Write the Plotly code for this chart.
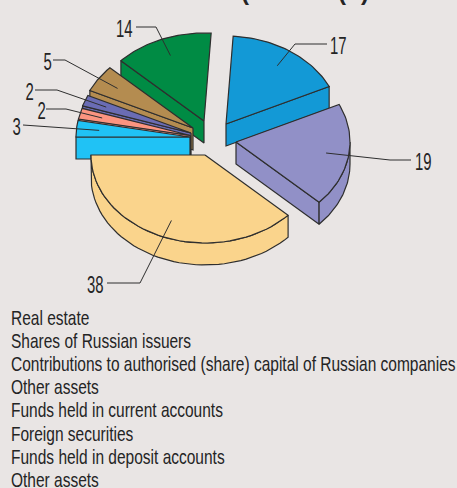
import math
import plotly.graph_objects as go

# ---- data ----
slice_names = ["Light blue", "Pink", "Purple", "Brown", "Green", "Blue", "Lilac", "Yellow"]
values = [3, 2, 2, 5, 14, 17, 19, 38]
legend_lines = ["Real estate", "Shares of Russian issuers",
                "Contributions to authorised (share) capital of Russian companies",
                "Other assets", "Funds held in current accounts", "Foreign securities",
                "Funds held in deposit accounts", "Other assets"]

# ---- styles and layout ----
colors = ["#20C2F5", "#FC9480", "#6A6CB4", "#B48C50", "#008B44", "#1399D6", "#9190C7", "#FAD48C"]
centers = [(190, 137), (190.5, 135.5), (191, 133), (193, 128), (204, 121), (226, 124), (236, 142), (205, 155)]
wall_edge = ["start", "start", "start", "start", "start", "end", "end", None]
draw_order = [4, 3, 2, 1, 0, 5, 6, 7]
label_elbows = [[(23, 125)], [(66, 109), (46, 109)], [(57, 90), (35, 90)], [(65, 60), (53, 60)],
                [(156, 27), (136, 27)], [(295, 44), (327, 44)], [(390, 160), (411, 160)], [(140, 283), (107, 283)]]
label_pos = [(16, 126), (41, 110), (29, 91), (47, 61), (124, 28), (338, 45), (423, 161), (95, 284)]
RX, RY, DEPTH = 114, 88, 22
BG = "#E9E5E4"
LINE = "#2E2E2E"
FONT = "Liberation Sans"
TEXT = "#242424"


def pt(c, t, f=1.0):
    a = math.radians(t)
    return (c[0] - RX * f * math.cos(a), c[1] - RY * f * math.sin(a))


def poly(fig, pts, fill, w=1.2):
    xs = [p[0] for p in pts] + [pts[0][0]]
    ys = [p[1] for p in pts] + [pts[0][1]]
    fig.add_trace(go.Scatter(x=xs, y=ys, mode="lines", fill="toself", fillcolor=fill,
                             line=dict(color=LINE, width=w), hoverinfo="skip", showlegend=False))


def arc(c, t0, t1, n=48):
    return [pt(c, t0 + (t1 - t0) * i / n) for i in range(n + 1)]


fig = go.Figure()
total = sum(values)
t = 0.0
spans = []
for v in values:
    spans.append((t, t + v / total * 360))
    t += v / total * 360

for i in draw_order:
    (t0, t1), c, col, edge = spans[i], centers[i], colors[i], wall_edge[i]
    if edge:
        e = pt(c, t0 if edge == "start" else t1)
        poly(fig, [c, e, (e[0], e[1] + DEPTH), (c[0], c[1] + DEPTH)], col)
    lo, hi = max(t0, 180), t1
    if hi > lo:
        a = arc(c, lo, hi)
        poly(fig, a + [(p[0], p[1] + DEPTH) for p in reversed(a)], col)
    poly(fig, [c] + arc(c, t0, t1), col)

for (t0, t1), c, elb, lp, v in zip(spans, centers, label_elbows, label_pos, values):
    anchor = pt(c, (t0 + t1) / 2, 0.8)
    pts = [anchor] + elb
    fig.add_trace(go.Scatter(x=[p[0] for p in pts], y=[p[1] for p in pts], mode="lines",
                             line=dict(color=LINE, width=1), hoverinfo="skip", showlegend=False))
    fig.add_annotation(x=lp[0], y=lp[1], text=str(v), showarrow=False, xanchor="center", yanchor="middle",
                       font=dict(family=FONT, size=24, color=TEXT))

for i, line in enumerate(legend_lines):
    fig.add_annotation(x=9, y=317.5 + i * 23.1, text=line, showarrow=False, xanchor="left", yanchor="middle",
                       font=dict(family=FONT, size=21, color=TEXT))

# bottoms of the title's brackets, cut by the top edge of the picture
for x, s in [(245, "("), (342, "("), (365, ")")]:
    fig.add_annotation(xref="paper", yref="paper", x=x / 457, y=1 + 8 / 488, text=f"<b>{s}</b>", showarrow=False,
                       xanchor="center", yanchor="middle", font=dict(family=FONT, size=24, color=TEXT))

fig.update_layout(width=457, height=488, margin=dict(l=0, r=0, t=0, b=0),
                  paper_bgcolor=BG, plot_bgcolor=BG, showlegend=False,
                  xaxis=dict(range=[0, 457], visible=False, fixedrange=True),
                  yaxis=dict(range=[488, 0], visible=False, fixedrange=True))

# The reference type is far narrower than any installed face: squeeze glyphs, keep real text.
post = """
document.body.style.margin='0';
document.body.style.overflow='hidden';
document.body.style.background='%s';
document.querySelectorAll('text.annotation-text').forEach(function(el){
  var s=el.textContent, n=/^[0-9]+$/.test(s), k=n?0.62:0.738;
  if(s==='('||s===')')return;
  var w=el.getComputedTextLength(), nw=w*k;
  el.setAttribute('lengthAdjust','spacingAndGlyphs');
  el.setAttribute('textLength',nw);
  if(!n){el.setAttribute('x',parseFloat(el.getAttribute('x'))-(w-nw)/2);}
});
""" % BG
fig.write_html("out.html", config={"displayModeBar": False}, post_script=post)
